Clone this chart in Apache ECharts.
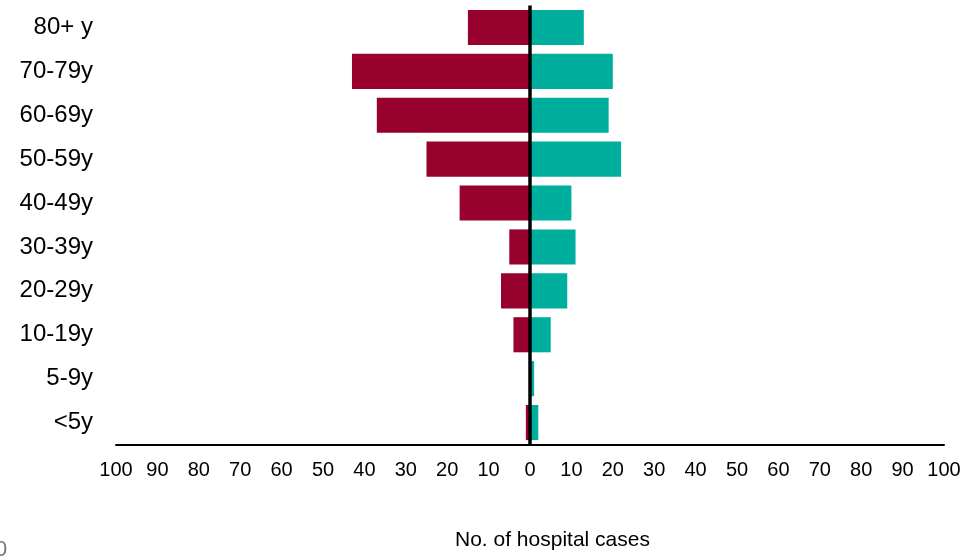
<!DOCTYPE html>
<html>
<head>
<meta charset="utf-8">
<script src="https://cdn.jsdelivr.net/npm/echarts@6/dist/echarts.min.js"></script>
<style>
  html, body { margin: 0; padding: 0; background: #fff; }
  #chart { width: 971px; height: 556px; }
</style>
</head>
<body>
<div id="chart"></div>
<script>
// age groups, bottom to top
var ageGroups = ['<5y', '5-9y', '10-19y', '20-29y', '30-39y', '40-49y', '50-59y', '60-69y', '70-79y', '80+ y'];
// left side (red) and right side (teal), counts per age group
var leftCases = [1, 0, 4, 7, 5, 17, 25, 37, 43, 15];
var rightCases = [2, 1, 5, 9, 11, 10, 22, 19, 20, 13];
var tickStep = 10;

var chart = echarts.init(document.getElementById('chart'));

var option = {
  animation: false,
  textStyle: { fontFamily: 'Liberation Sans, Arial, sans-serif' },
  title: {
    text: 'No. of hospital cases',
    left: 455,
    top: 530,
    padding: 0,
    textStyle: { fontSize: 21, fontWeight: 'normal', color: '#000' }
  },
  graphic: [{
    type: 'text',
    left: -5,
    top: 539,
    style: { text: '0', fontSize: 22, fill: '#777', fontFamily: 'Liberation Sans, Arial, sans-serif' }
  }],
  grid: { left: 116, right: 27, top: 5.5, bottom: 111.5 },
  xAxis: {
    type: 'value',
    min: -100,
    max: 100,
    interval: tickStep,
    splitLine: { show: false },
    axisTick: { show: false },
    axisLine: { show: true, onZero: false, lineStyle: { color: '#000', width: 2 } },
    axisLabel: {
      color: '#000',
      fontSize: 20,
      margin: 16,
      formatter: function (v) { return Math.abs(v); }
    }
  },
  yAxis: {
    type: 'category',
    data: ageGroups,
    axisLine: { show: false },
    axisTick: { show: false },
    axisLabel: { color: '#000', fontSize: 24, margin: 23 }
  },
  series: [
    {
      type: 'bar',
      stack: 'cases',
      barCategoryGap: '20%',
      data: leftCases.map(function (v) { return -v; }),
      itemStyle: { color: '#98002e' },
      markLine: {
        silent: true,
        symbol: 'none',
        label: { show: false },
        lineStyle: { color: '#000', width: 3.5, type: 'solid' },
        data: [{ xAxis: 0 }]
      }
    },
    {
      type: 'bar',
      stack: 'cases',
      barCategoryGap: '20%',
      data: rightCases,
      itemStyle: { color: '#00ae9d' }
    }
  ]
};

chart.setOption(option);
</script>
</body>
</html>
